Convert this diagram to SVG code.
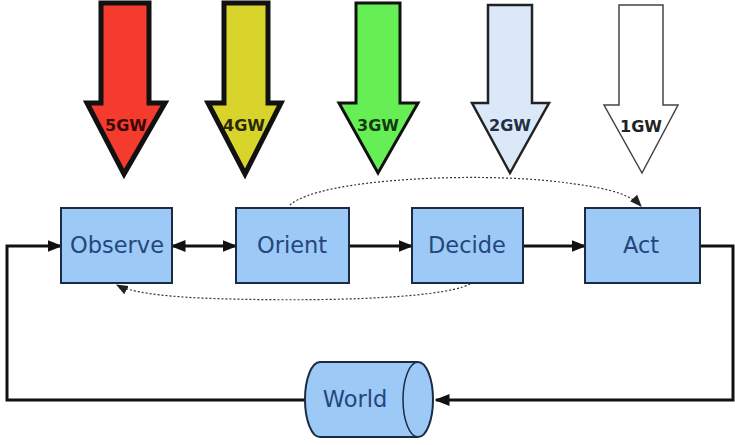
<svg xmlns="http://www.w3.org/2000/svg" width="735" height="445" viewBox="0 0 735 445">
<defs>
<marker id="ah" viewBox="0 0 10 10" refX="9" refY="5" markerWidth="5" markerHeight="5" orient="auto-start-reverse" markerUnits="strokeWidth">
<path d="M0,1 L10,5 L0,9 Z" fill="#111"/>
</marker>
<marker id="ahd" viewBox="0 0 10 10" refX="9" refY="5" markerWidth="10" markerHeight="10" orient="auto-start-reverse" markerUnits="strokeWidth">
<path d="M0,1 L10,5 L0,9 Z" fill="#222"/>
</marker>
</defs>
<style>
.box{fill:#9cc9f5;stroke:#1c2b44;stroke-width:2}
.lbl{font-family:"DejaVu Sans","Liberation Sans",sans-serif;font-size:22.5px;fill:#23477d;text-anchor:middle;dominant-baseline:central}
.gw{font-family:"DejaVu Sans","Liberation Sans",sans-serif;font-size:16px;font-weight:bold;text-anchor:middle;dominant-baseline:central}
.con{fill:none;stroke:#111;stroke-width:3}
.dot{fill:none;stroke:#333;stroke-width:1.2;stroke-dasharray:2 2}
</style>
<rect width="735" height="445" fill="#ffffff"/>
<g id="arrow5gw">
<path d="M101,3 L149,3 L149,103 L165,103 L124,174 L87,103 L101,103 Z" fill="#f53a2e" stroke="#111" stroke-width="5" stroke-linejoin="miter"/>
<text class="gw" x="126" y="125" fill="#3a0a08">5GW</text>
</g>
<g id="arrow4gw">
<path d="M224,3 L268,3 L268,103 L281,103 L245,174 L208,103 L224,103 Z" fill="#d8d42c" stroke="#111" stroke-width="5"/>
<text class="gw" x="244" y="125" fill="#2a2a08">4GW</text>
</g>
<g id="arrow3gw">
<path d="M356,3 L400,3 L400,103 L418,103 L378,173 L339,103 L356,103 Z" fill="#66ee55" stroke="#111" stroke-width="3"/>
<text class="gw" x="378" y="125" fill="#153a10">3GW</text>
</g>
<g id="arrow2gw">
<path d="M488,5 L532,5 L532,103 L549,103 L510,173 L472,103 L488,103 Z" fill="#dbe8f8" stroke="#222" stroke-width="2.5"/>
<text class="gw" x="510" y="125" fill="#223044">2GW</text>
</g>
<g id="arrow1gw">
<path d="M619,5 L663,5 L663,105 L678,105 L642,173 L604,105 L619,105 Z" fill="#ffffff" stroke="#444" stroke-width="1.5"/>
<text class="gw" x="641" y="126" fill="#222">1GW</text>
</g>
<g id="connectors">
<path class="con" d="M172,246 L236,246" marker-start="url(#ah)" marker-end="url(#ah)"/>
<path class="con" d="M349,246 L412,246" marker-end="url(#ah)"/>
<path class="con" d="M523,246 L585,246" marker-end="url(#ah)"/>
<path class="con" d="M700,246 L733,246 L733,400 L436,400" marker-end="url(#ah)"/>
<path class="con" d="M306,400 L7,400 L7,246 L61,246" marker-end="url(#ah)"/>
<path class="dot" d="M290,205 C320,178 480,172 560,182 C600,187 628,192 641,206" marker-end="url(#ahd)"/>
<path class="dot" d="M470,284 C440,300 300,302 200,298 C160,296 130,292 117,285" marker-end="url(#ahd)"/>
</g>
<g id="observe">
<rect class="box" x="61" y="208" width="111" height="75"/>
<text class="lbl" x="117" y="245">Observe</text>
</g>
<g id="orient">
<rect class="box" x="236" y="208" width="113" height="75"/>
<text class="lbl" x="292" y="245">Orient</text>
</g>
<g id="decide">
<rect class="box" x="412" y="208" width="111" height="75"/>
<text class="lbl" x="467" y="245">Decide</text>
</g>
<g id="act">
<rect class="box" x="585" y="208" width="115" height="75"/>
<text class="lbl" x="641" y="245">Act</text>
</g>
<g id="world">
<path d="M320,362 L418,362 A15,37.5 0 0 1 418,437 L320,437 A15,37.5 0 0 1 320,362 Z" fill="#9cc9f5" stroke="#1c2b44" stroke-width="2"/>
<path d="M418,362 A15,37.5 0 0 0 418,437" fill="none" stroke="#1c2b44" stroke-width="1.5"/>
<text class="lbl" x="355" y="399">World</text>
</g>
</svg>
